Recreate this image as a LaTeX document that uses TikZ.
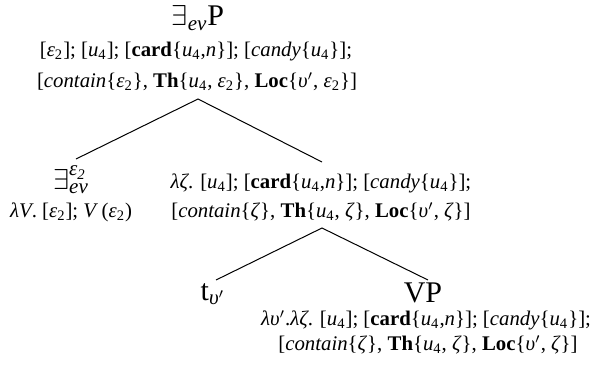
\documentclass[tikz,border=0pt]{standalone}
\usepackage{amsmath}
\usepackage{fontspec}
\setmainfont{Liberation Serif}
\newcommand{\ep}{\textit{ε}}
\newcommand{\zt}{\textit{ζ}}
\newcommand{\lm}{\textit{λ}}
\newcommand{\up}{\textit{υ}$'$}
\newcommand{\uf}{\textit{u}\textsubscript{4}}
\begin{document}
\begin{tikzpicture}[x=0.5pt,y=-0.5pt,
  big/.style={inner sep=0pt,font=\fontsize{15}{17}\selectfont},
  sem/.style={inner sep=0pt,font=\fontsize{10.4}{12}\selectfont},
  branch/.style={line width=0.5pt}]
\useasboundingbox (0,0) rectangle (594,375);
\node[big] (root) at (198,18) {$\exists_{\text{\itshape ev}}$P};
\node[sem] (r1) at (196,52) {[\ep\textsubscript{2}]; [\uf]; [\textbf{card}\{\uf,\textit{n}\}]; [\textit{candy}\{\uf\}];};
\node[sem] (r2) at (197,82) {[\textit{contain}\{\ep\textsubscript{2}\}, \textbf{Th}\{\uf, \ep\textsubscript{2}\}, \textbf{Loc}\{\up, \ep\textsubscript{2}\}]};
\coordinate (a1) at (198,99);
\coordinate (l1) at (76,159);
\coordinate (r1e) at (322,162);
\node[big] (ex) at (71,180) {$\exists^{\text{\itshape ε\textsubscript{2}}}_{\text{\itshape ev}}$};
\node[sem] (exs) at (71,212) {\lm\textit{V}. [\ep\textsubscript{2}]; \textit{V}\,(\ep\textsubscript{2})};
\node[sem] (m1) at (321,183) {\lm\zt. [\uf]; [\textbf{card}\{\uf,\textit{n}\}]; [\textit{candy}\{\uf\}];};
\node[sem] (m2) at (321,212) {[\textit{contain}\{\zt\}, \textbf{Th}\{\uf, \zt\}, \textbf{Loc}\{\up, \zt\}]};
\coordinate (a2) at (322,228);
\coordinate (l2) at (216,280);
\coordinate (r2e) at (428,280);
\node[big] (t) at (213,294) {t$_{\text{\itshape υ}'}$};
\node[big] (vp) at (423,293) {VP};
\node[sem] (v1) at (426,320) {\lm\up.\lm\zt. [\uf]; [\textbf{card}\{\uf,\textit{n}\}]; [\textit{candy}\{\uf\}];};
\node[sem] (v2) at (428,345) {[\textit{contain}\{\zt\}, \textbf{Th}\{\uf, \zt\}, \textbf{Loc}\{\up, \zt\}]};
\draw[branch] (l1) -- (a1) -- (r1e);
\draw[branch] (l2) -- (a2) -- (r2e);
\end{tikzpicture}
\end{document}
